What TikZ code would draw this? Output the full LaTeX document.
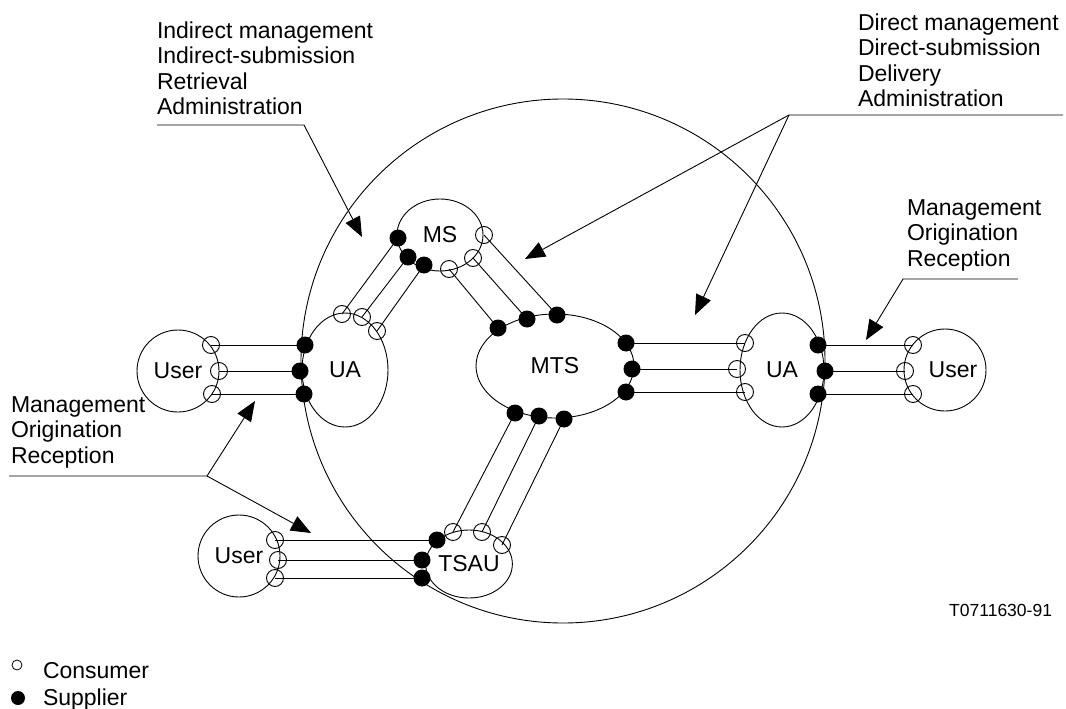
\documentclass[tikz,border=0pt]{standalone}
\usepackage{fontspec}
\setmainfont{Liberation Sans}
\usetikzlibrary{arrows.meta,shapes.geometric}
\begin{document}
\begin{tikzpicture}[x=1pt,y=-1pt,
  every node/.style={inner sep=0pt, outer sep=0pt},
  lbl/.style={font=\fontsize{23}{25.5}\selectfont, align=left, anchor=north west},
  ent/.style={draw, ellipse, font=\fontsize{23}{25}\selectfont},
  supdot/.style={circle, fill=black, minimum size=17pt},
  condot/.style={circle, draw, minimum size=17pt},
  arr/.style={-{Triangle[length=20pt,width=16pt]}},
  line width=0.9pt]
\useasboundingbox (0,0) rectangle (1066,709);

% MHS boundary
\node[draw, circle, minimum size=524pt] (mhs) at (563,361) {};

% entities
\node[ent, minimum width=82pt, minimum height=82pt] (userL) at (178,371) {User};
\node[ent, minimum width=86pt, minimum height=114pt] (uaL) at (345,370) {UA};
\node[ent, minimum width=86pt, minimum height=72pt] (ms) at (440,235) {MS};
\node[ent, minimum width=158pt, minimum height=104pt] (mts) at (555,366) {MTS};
\node[ent, minimum width=84pt, minimum height=114pt] (uaR) at (782,370) {UA};
\node[ent, minimum width=82pt, minimum height=82pt,
      label={[xshift=8pt, font=\fontsize{23}{25}\selectfont]center:User}] (userR) at (945,370) {};
\node[ent, minimum width=84pt, minimum height=68pt] (tsau) at (469,564) {TSAU};
\node[ent, minimum width=82pt, minimum height=82pt] (userB) at (239,556) {User};

% port coordinates
% User(left) -- UA(left)
\coordinate (oL1) at (211,345); \coordinate (fL1) at (305,345);
\coordinate (oL2) at (219,371); \coordinate (fL2) at (300,371);
\coordinate (oL3) at (212,394); \coordinate (fL3) at (304,394);
% UA(left) -- MS
\coordinate (oU1) at (342,314); \coordinate (fM1) at (398,238);
\coordinate (oU2) at (362,317); \coordinate (fM2) at (408,257);
\coordinate (oU3) at (377,331); \coordinate (fM3) at (424,265);
% MS -- MTS
\coordinate (oM1) at (449,269); \coordinate (fT1) at (498,328);
\coordinate (oM2) at (473,258); \coordinate (fT2) at (527,319);
\coordinate (oM3) at (484,235); \coordinate (fT3) at (557,315);
% MTS -- UA(right)
\coordinate (fR1) at (626,343); \coordinate (oR1) at (745,343);
\coordinate (fR2) at (632,369); \coordinate (oR2) at (737,369);
\coordinate (fR3) at (626,392); \coordinate (oR3) at (745,392);
% UA(right) -- User(right)
\coordinate (fV1) at (818,345); \coordinate (oV1) at (913,345);
\coordinate (fV2) at (825,371); \coordinate (oV2) at (905,371);
\coordinate (fV3) at (818,394); \coordinate (oV3) at (913,394);
% MTS -- TSAU
\coordinate (fB1) at (515,413); \coordinate (oS1) at (453,532);
\coordinate (fB2) at (539,416); \coordinate (oS2) at (482,532);
\coordinate (fB3) at (564,419); \coordinate (oS3) at (502,545);
% TSAU -- User(bottom)
\coordinate (fS1) at (437,540); \coordinate (oB1) at (275,540);
\coordinate (fS2) at (422,560); \coordinate (oB2) at (278,560);
\coordinate (fS3) at (422,578); \coordinate (oB3) at (275,578);

% connection lines
\foreach \a/\b in {oL1/fL1,oL2/fL2,oL3/fL3,oU1/fM1,oU2/fM2,oU3/fM3,
                   oM1/fT1,oM2/fT2,oM3/fT3,fR1/oR1,fR2/oR2,fR3/oR3,
                   fV1/oV1,fV2/oV2,fV3/oV3,fB1/oS1,fB2/oS2,fB3/oS3,
                   fS1/oB1,fS2/oB2,fS3/oB3}
  \draw (\a) -- (\b);

% supplier dots
\foreach \p in {fL1,fL2,fL3,fM1,fM2,fM3,fT1,fT2,fT3,fR1,fR2,fR3,
                fV1,fV2,fV3,fB1,fB2,fB3,fS1,fS2,fS3}
  \node[supdot] (d\p) at (\p) {};
% consumer circles
\foreach \p in {oL1,oL2,oL3,oU1,oU2,oU3,oM1,oM2,oM3,oR1,oR2,oR3,
                oV1,oV2,oV3,oS1,oS2,oS3,oB1,oB2,oB3}
  \node[condot] (c\p) at (\p) {};

% callout labels
\node[lbl] (t1) at (157,21.5) {Indirect management\\Indirect-submission\\Retrieval\\Administration};
\node[lbl] (t2) at (858,13.5) {Direct management\\Direct-submission\\Delivery\\Administration};
\node[lbl] (t3) at (907,199.5) {Management\\Origination\\Reception};
\node[lbl] (t4) at (11,396.5) {Management\\Origination\\Reception};

% callout leaders
\coordinate (a1s) at (157,125); \coordinate (a1k) at (304,125); \coordinate (a1t) at (362,237);
\draw[arr] (a1s) -- (a1k) -- (a1t);

\coordinate (a2s) at (1063,115); \coordinate (a2k) at (789,115);
\coordinate (a2t) at (525,259); \coordinate (a2u) at (695,315);
\draw[arr] (a2s) -- (a2k) -- (a2t);
\draw[arr] (a2k) -- (a2u);

\coordinate (a3s) at (1018,279); \coordinate (a3k) at (903,279); \coordinate (a3t) at (866,340);
\draw[arr] (a3s) -- (a3k) -- (a3t);

\coordinate (a4s) at (9,476); \coordinate (a4k) at (207,476);
\coordinate (a4t) at (255,401); \coordinate (a4u) at (311,533);
\draw[arr] (a4s) -- (a4k) -- (a4t);
\draw[arr] (a4k) -- (a4u);

% figure id
\node[anchor=base east, font=\fontsize{17.5}{20}\selectfont] (fid) at (1052,616) {T0711630-91};

% legend
\node[circle, draw, minimum size=10pt, line width=0.8pt] (legc) at (17,665) {};
\node[anchor=base west, font=\fontsize{23}{25}\selectfont] (legct) at (43,678) {Consumer};
\node[circle, fill=black, minimum size=14pt] (legs) at (18,698) {};
\node[anchor=base west, font=\fontsize{23}{25}\selectfont] (legst) at (43,705) {Supplier};
\end{tikzpicture}
\end{document}
